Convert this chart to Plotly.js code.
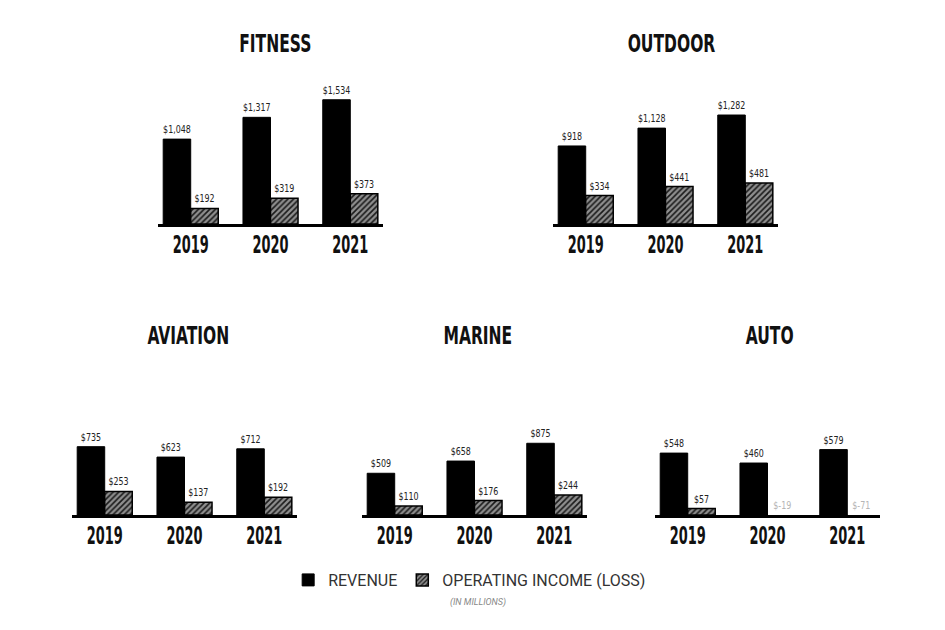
<!DOCTYPE html>
<html>
<head>
<meta charset="utf-8">
<script src="https://cdn.plot.ly/plotly-3.0.1.min.js"></script>
<style>html,body{margin:0;padding:0;background:#fff;}#chart{width:945px;height:630px;}</style>
</head>
<body>
<div id="chart"></div>
<script>
// ---- data ----
const years = ['2019', '2020', '2021'];
const segments = ['FITNESS', 'OUTDOOR', 'AVIATION', 'MARINE', 'AUTO'];
const fitnessRevenue = [1048, 1317, 1534];
const fitnessIncome = [192, 319, 373];
const outdoorRevenue = [918, 1128, 1282];
const outdoorIncome = [334, 441, 481];
const aviationRevenue = [735, 623, 712];
const aviationIncome = [253, 137, 192];
const marineRevenue = [509, 658, 875];
const marineIncome = [110, 176, 244];
const autoRevenue = [548, 460, 579];
const autoIncome = [57, -19, -71];
const seriesNames = ['REVENUE', 'OPERATING INCOME (LOSS)'];
const unitNote = '(IN MILLIONS)';

// ---- layout (pixel geometry & styles) ----
const W = 945, H = 630;
const revenueSets = [fitnessRevenue, outdoorRevenue, aviationRevenue, marineRevenue, autoRevenue];
const incomeSets = [fitnessIncome, outdoorIncome, aviationIncome, marineIncome, autoIncome];
const panels = [
  {x0: 158, x1: 383, yTop: 80, yBase: 224, ymax: 1778, tx: 275, ty: 44},
  {x0: 553, x1: 778, yTop: 80, yBase: 224, ymax: 1694, tx: 671, ty: 44},
  {x0: 72,  x1: 297, yTop: 420, yBase: 515, ymax: 1022, tx: 188, ty: 335},
  {x0: 362, x1: 587, yTop: 420, yBase: 515, ymax: 1159, tx: 478, ty: 335},
  {x0: 655, x1: 880, yTop: 420, yBase: 515, ymax: 841, tx: 769, ty: 335}
];
const condensed = '"DejaVu Sans Condensed", "DejaVu Sans", sans-serif';
const legendFont = 'Roboto, "Open Sans", sans-serif';
const fmt = v => '$' + v.toLocaleString('en-US');

const data = [];
const layout = {
  width: W, height: H,
  margin: {l: 0, r: 0, t: 0, b: 0},
  paper_bgcolor: '#fff', plot_bgcolor: '#fff',
  barmode: 'group', bargap: 0.31, bargroupgap: 0,
  showlegend: true,
  legend: {
    orientation: 'h', x: 0.497, xanchor: 'center', y: (H - 580) / H, yanchor: 'middle',
    font: {family: legendFont, size: 16, color: '#333'},
    itemwidth: 30, traceorder: 'normal'
  },
  annotations: [],
  font: {family: condensed}
};

panels.forEach((p, i) => {
  const n = i === 0 ? '' : String(i + 1);
  const xa = 'x' + n, ya = 'y' + n;
  data.push({
    type: 'bar', x: years, y: revenueSets[i], name: seriesNames[0],
    xaxis: xa, yaxis: ya, showlegend: i === 0, legendgroup: 'rev',
    marker: {color: '#000', line: {color: '#000', width: 1}},
    text: revenueSets[i].map(fmt), textposition: 'outside', cliponaxis: false,
    constraintext: 'none',
    textfont: {family: condensed, size: 11, color: '#222'},
    hoverinfo: 'skip'
  });
  data.push({
    type: 'bar', x: years, y: incomeSets[i], name: seriesNames[1],
    xaxis: xa, yaxis: ya, showlegend: i === 0, legendgroup: 'inc',
    marker: {color: '#8a8a8a', line: {color: '#000', width: incomeSets[i].map(v => v >= 0 ? 1.5 : 0)},
      pattern: {shape: '/', fgcolor: '#1a1a1a', bgcolor: '#8e8e8e', size: 4, solidity: 0.4}},
    text: incomeSets[i].map(v => v >= 0 ? fmt(v) : ''), textposition: 'outside', cliponaxis: true,
    constraintext: 'none',
    textfont: {family: condensed, size: 11, color: '#222'},
    hoverinfo: 'skip'
  });
  // loss labels (bars fall below the visible range)
  incomeSets[i].forEach((v, k) => {
    if (v < 0) {
      layout.annotations.push({
        xref: xa, yref: ya, x: k, y: 0, xshift: 14, yshift: 1,
        yanchor: 'bottom', xanchor: 'center', showarrow: false, text: fmt(v),
        font: {family: condensed, size: 11, color: '#b5b5b5'},
        name: 'loss'
      });
    }
  });
  layout['xaxis' + n] = {
    domain: [p.x0 / W, p.x1 / W], anchor: ya, type: 'category',
    range: [-0.41, 2.41], showline: true, linewidth: 3, linecolor: '#000',
    showgrid: false, zeroline: false, ticks: '', ticklabelstandoff: -4,
    tickfont: {family: condensed, size: 25, color: '#111', weight: 'bold'}, fixedrange: true
  };
  layout['yaxis' + n] = {
    domain: [(H - p.yBase) / H, (H - p.yTop) / H], anchor: xa,
    range: [0, p.ymax], visible: false, showgrid: false, zeroline: false, fixedrange: true
  };
  layout.annotations.push({
    xref: 'paper', yref: 'paper', x: p.tx / W, y: (H - p.ty) / H,
    xanchor: 'center', yanchor: 'middle', showarrow: false, text: segments[i],
    font: {family: condensed, size: 25, color: '#111', weight: 'bold'},
    name: 'title'
  });
});

layout.annotations.push({
  xref: 'paper', yref: 'paper', x: 478 / W, y: (H - 602) / H,
  xanchor: 'center', yanchor: 'middle', showarrow: false, text: '<i>' + unitNote + '</i>',
  font: {family: legendFont, size: 9, color: '#888'},
  name: 'note'
});

// horizontal squeeze of the display text (the original uses a very narrow face)
function squeezeTo(el, len) {
  el.setAttribute('textLength', len.toFixed(1));
  el.setAttribute('lengthAdjust', 'spacingAndGlyphs');
}
function squeeze(el, ratio) {
  const w = el.getComputedTextLength();
  if (w > 0) squeezeTo(el, w * ratio);
}

Plotly.newPlot('chart', data, layout, {staticPlot: true, displayModeBar: false}).then(gd => {
  gd.querySelectorAll('.xaxislayer-above text').forEach(t => squeezeTo(t, 36));
  gd.querySelectorAll('text.bartext').forEach(t => squeeze(t, 0.8));
  const annEls = gd.querySelectorAll('.annotation');
  gd._fullLayout.annotations.forEach((a, idx) => {
    const t = annEls[idx] && annEls[idx].querySelector('text.annotation-text');
    if (!t) return;
    if (a.name === 'title') squeeze(t, 0.69);
    else if (a.name === 'loss') squeeze(t, 0.8);
  });
});
</script>
</body>
</html>
